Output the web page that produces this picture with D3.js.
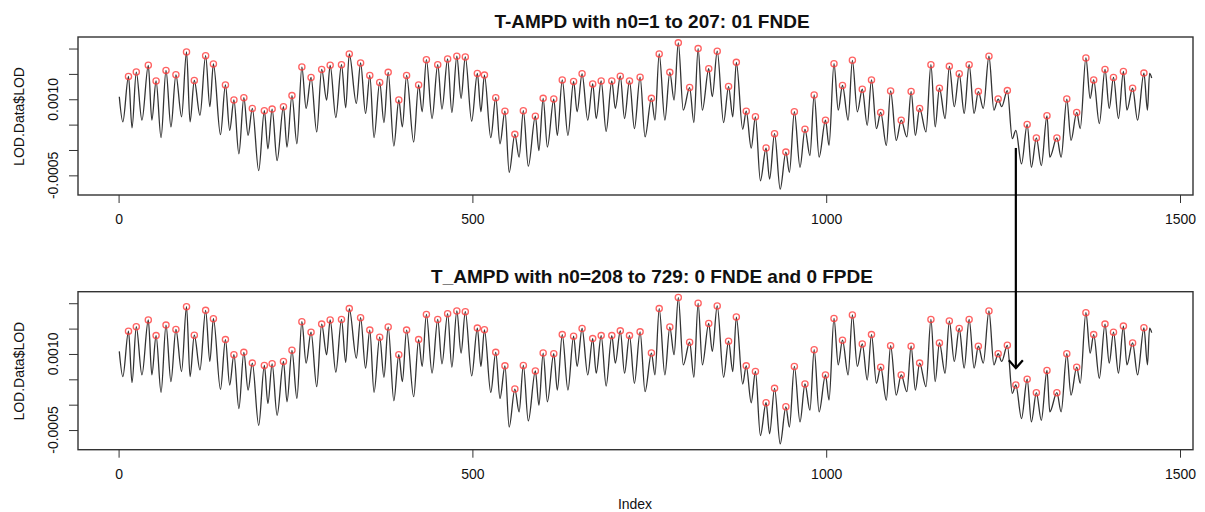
<!DOCTYPE html>
<html>
<head>
<meta charset="utf-8">
<script src="https://cdn.jsdelivr.net/npm/d3@7"></script>
<style>
  body { margin: 0; background: #fff; }
  text { font-family: "Liberation Sans", Arial, sans-serif; fill: #111; }
</style>
</head>
<body>
<svg id="chart" width="1205" height="512"></svg>
<script>
const lodIndex = [
  1, 6, 14, 19, 25, 33, 42, 47, 53, 60, 67, 74, 81, 89, 96, 101, 107, 115, 123, 129,
  134, 144, 151, 157, 163, 170, 177, 183, 189, 198, 206, 211, 217, 224, 233, 238, 245, 252, 259, 265,
  272, 280, 287, 294, 299, 307, 315, 321, 326, 336, 342, 349, 355, 361, 369, 375, 381, 389, 396, 401,
  407, 417, 424, 429, 435, 443, 451, 457, 465, 471, 478, 484, 490, 499, 507, 512, 517, 526, 533, 539,
  546, 552, 560, 566, 572, 579, 589, 594, 600, 606, 615, 620, 627, 635, 643, 648, 655, 663, 670, 675,
  682, 689, 697, 702, 709, 715, 722, 729, 737, 744, 753, 758, 764, 772, 779, 785, 791, 798, 807, 813,
  819, 825, 834, 839, 846, 855, 862, 868, 873, 882, 887, 894, 900, 907, 915, 920, 927, 935, 943, 948,
  955, 963, 970, 977, 983, 990, 999, 1004, 1011, 1017, 1023, 1031, 1037, 1044, 1051, 1058, 1064, 1071, 1077, 1085,
  1091, 1099, 1106, 1114, 1120, 1126, 1132, 1141, 1148, 1154, 1160, 1168, 1174, 1181, 1188, 1195, 1202, 1209, 1215, 1222,
  1230, 1237, 1243, 1248, 1256, 1263, 1268, 1276, 1284, 1290, 1297, 1304, 1312, 1316, 1326, 1332, 1340, 1346, 1354, 1359,
  1367, 1373, 1378, 1386, 1394, 1400, 1406, 1413, 1420, 1425, 1433, 1440, 1449, 1454, 1457, 1460
];
const lodValue = [
  0.00105, 0.000555, 0.00145, 0.000436, 0.001536, 0.000587, 0.001669, 0.000587, 0.001362, 0.000243,
  0.001569, 0.000455, 0.001482, 0.000654, 0.001933, 0.000555, 0.00137, 0.000686, 0.00186, 0.000853,
  0.001695, 0.000302, 0.001283, 0.000388, 0.000985, -0.000076, 0.001032, 0.000288, 0.00082, -0.000408,
  0.000774, 0.000024, 0.000806, -0.000209, 0.000853, 0.000058, 0.001072, 0.000123, 0.001635, 0.00082,
  0.00143, 0.000356, 0.001589, 0.000985, 0.001669, 0.00064, 0.00168, 0.000833, 0.001894, 0.000919,
  0.001715, 0.00072, 0.00147, 0.000243, 0.001331, 0.000541, 0.00153, 0.000078, 0.000985, 0.000455,
  0.00147, 0.000157, 0.001283, 0.000754, 0.00178, 0.000621, 0.00168, 0.000806, 0.001794, 0.00074,
  0.001848, 0.001018, 0.001834, 0.000567, 0.00151, 0.000754, 0.001476, 0.000243, 0.001032, 0.000123,
  0.000766, -0.00044, 0.000308, -0.000141, 0.000774, -0.00032, 0.000666, -0.00001, 0.001018, 0.000058,
  0.001004, 0.000288, 0.001382, 0.000288, 0.00135, 0.000754, 0.001502, 0.000587, 0.001303, 0.000621,
  0.001362, 0.000368, 0.001362, 0.00082, 0.001456, 0.000621, 0.001362, 0.000422, 0.001436, 0.000257,
  0.001018, 0.000587, 0.001894, 0.000587, 0.00153, 0.000985, 0.002112, 0.000786, 0.001231, 0.000541,
  0.001999, 0.000786, 0.001601, 0.00105, 0.001947, 0.000541, 0.001251, 0.000654, 0.001728, 0.000408,
  0.000766, 0.000038, 0.000654, -0.000607, 0.000038, -0.000573, 0.000322, -0.000772, -0.000042, -0.00044,
  0.000754, -0.00034, 0.000408, -0.000109, 0.001084, -0.000141, 0.000587, 0.00009, 0.001701, 0.000786,
  0.001271, 0.000587, 0.001768, 0.000754, 0.001197, 0.000487, 0.001382, 0.000422, 0.00074, 0.00009,
  0.001164, 0.000189, 0.000587, 0.000257, 0.001152, 0.000288, 0.00082, 0.000356, 0.00168, 0.000455,
  0.001217, 0.000621, 0.001649, 0.000853, 0.001502, 0.00072, 0.00168, 0.00072, 0.001152, 0.00082,
  0.001848, 0.000786, 0.001004, 0.000853, 0.001171, 0.000223, 0.000388, -0.000274, 0.000501, -0.00034,
  0.000237, -0.000308, 0.000674, -0.000141, 0.000237, -0.000141, 0.001004, 0.000189, 0.00074, 0.000422,
  0.001814, 0.001018, 0.001382, 0.000521, 0.001589, 0.00082, 0.00143, 0.000621, 0.001549, 0.000786,
  0.001217, 0.000587, 0.001516, 0.000786, 0.00151, 0.00142
];

// peaks found by the detector in each panel (the lower one also finds n=1268)
const peaksTop = [
  14, 25, 42, 53, 67, 81, 96, 107, 123, 134, 151, 163, 177, 189, 206, 217, 233, 245, 259, 272,
  287, 299, 315, 326, 342, 355, 369, 381, 396, 407, 424, 435, 451, 465, 478, 490, 507, 517, 533, 546,
  560, 572, 589, 600, 615, 627, 643, 655, 670, 682, 697, 709, 722, 737, 753, 764, 779, 791, 807, 819,
  834, 846, 862, 873, 887, 900, 915, 927, 943, 955, 970, 983, 999, 1011, 1023, 1037, 1051, 1064, 1077, 1091,
  1106, 1120, 1132, 1148, 1160, 1174, 1188, 1202, 1215, 1230, 1243, 1256, 1284, 1297, 1312, 1326, 1340, 1354, 1367, 1378,
  1394, 1406, 1420, 1433, 1449
];
const missedPeaks = [1268];
const peaksBottom = peaksTop.concat(missedPeaks);

const panelTitles = [
  'T-AMPD with n0=1 to 207: 01 FNDE',
  'T_AMPD with n0=208 to 729: 0 FNDE and 0 FPDE'
];
const xTicks = [0, 500, 1000, 1500];
const yTicks = [-0.0005, 0, 0.0005, 0.001, 0.0015, 0.002];
const yTickLabels = ['-0.0005', '', '', '0.0010', '', ''];

const series = lodIndex.map((n, i) => ({ n: n, v: lodValue[i] }));
const valueAt = new Map(series.map(d => [d.n, d.v]));

const svg = d3.select('#chart');
const width = 1205;
const margin = { left: 78, right: 12 };
const panelHeight = 158;
const panelTops = [37, 291.7];

// R-style 4% padding on both axes
const xExt = d3.extent(lodIndex);
const xPad = (xExt[1] - xExt[0]) * 0.04;
const yExt = d3.extent(lodValue);
const yPad = (yExt[1] - yExt[0]) * 0.04;

const xScale = d3.scaleLinear()
  .domain([xExt[0] - xPad, xExt[1] + xPad])
  .range([margin.left, width - margin.right]);

function drawPanel(top, title, peaks) {
  const yScale = d3.scaleLinear()
    .domain([yExt[0] - yPad, yExt[1] + yPad])
    .range([top + panelHeight, top]);

  const g = svg.append('g');

  // x axis
  const xAxis = g.append('g')
    .attr('transform', `translate(0, ${top + panelHeight})`)
    .call(d3.axisBottom(xScale).tickValues(xTicks).tickSize(8).tickPadding(11).tickFormat(d3.format('d')));
  xAxis.select('.domain').remove();
  xAxis.selectAll('line').attr('stroke', '#333');
  xAxis.selectAll('text')
    .style('font-size', '14px')
    .style('font-family', '"Liberation Sans", Arial, sans-serif')
    .attr('fill', '#111');

  // y axis (labels rotated like R's las=0)
  const yAxis = g.append('g')
    .attr('transform', `translate(${margin.left}, 0)`)
    .call(d3.axisLeft(yScale).tickValues(yTicks).tickSize(9).tickFormat(''));
  yAxis.select('.domain').remove();
  yAxis.selectAll('line').attr('stroke', '#333');

  g.selectAll('.ylab')
    .data(yTicks)
    .enter()
    .append('text')
    .attr('class', 'ylab')
    .attr('transform', d => `translate(53, ${yScale(d)}) rotate(-90)`)
    .attr('text-anchor', 'middle')
    .attr('dy', '0.35em')
    .style('font-size', '14px')
    .text((d, i) => yTickLabels[i]);

  // series line
  const line = d3.line()
    .x(d => xScale(d.n))
    .y(d => yScale(d.v))
    .curve(d3.curveMonotoneX);

  g.append('path')
    .datum(series)
    .attr('fill', 'none')
    .attr('stroke', '#333')
    .attr('stroke-width', 1.3)
    .attr('d', line);

  // detected peaks
  g.selectAll('circle')
    .data(peaks)
    .enter()
    .append('circle')
    .attr('cx', d => xScale(d))
    .attr('cy', d => yScale(valueAt.get(d)))
    .attr('r', 3.1)
    .attr('fill', 'none')
    .attr('stroke', '#ff3b3b')
    .attr('stroke-opacity', 0.8)
    .attr('stroke-width', 1.3);

  // plot box
  g.append('rect')
    .attr('x', margin.left)
    .attr('y', top)
    .attr('width', width - margin.right - margin.left)
    .attr('height', panelHeight)
    .attr('fill', 'none')
    .attr('stroke', '#333')
    .attr('stroke-width', 1.4);

  g.append('text')
    .attr('x', 652)
    .attr('y', top - 9)
    .attr('text-anchor', 'middle')
    .style('font-size', '19px')
    .style('font-weight', 'bold')
    .text(title);

  g.append('text')
    .attr('transform', `translate(19, ${top + panelHeight / 2 + 0.5}) rotate(-90)`)
    .attr('text-anchor', 'middle')
    .attr('dy', '0.35em')
    .style('font-size', '14px')
    .text('LOD.Data$LOD');

  return yScale;
}

const yTop = drawPanel(panelTops[0], panelTitles[0], peaksTop);
const yBottom = drawPanel(panelTops[1], panelTitles[1], peaksBottom);

svg.append('text')
  .attr('x', 635)
  .attr('y', 504)
  .attr('text-anchor', 'middle')
  .attr('dy', '0.35em')
  .style('font-size', '14px')
  .text('Index');

// arrow pointing at the peak the first run missed
const arrowN = missedPeaks[0];
const arrowFrom = 0.00004;   // level in the upper panel
const arrowTo = 0.00072;     // level in the lower panel
const ax = xScale(arrowN);
const ay1 = yTop(arrowFrom);
const ay2 = yBottom(arrowTo);

svg.append('line')
  .attr('x1', ax).attr('y1', ay1)
  .attr('x2', ax).attr('y2', ay2)
  .attr('stroke', '#000')
  .attr('stroke-width', 2.2);

svg.append('path')
  .attr('d', `M${ax - 7},${ay2 - 8} L${ax},${ay2} L${ax + 7},${ay2 - 8}`)
  .attr('fill', 'none')
  .attr('stroke', '#000')
  .attr('stroke-width', 2.2);
</script>
</body>
</html>
